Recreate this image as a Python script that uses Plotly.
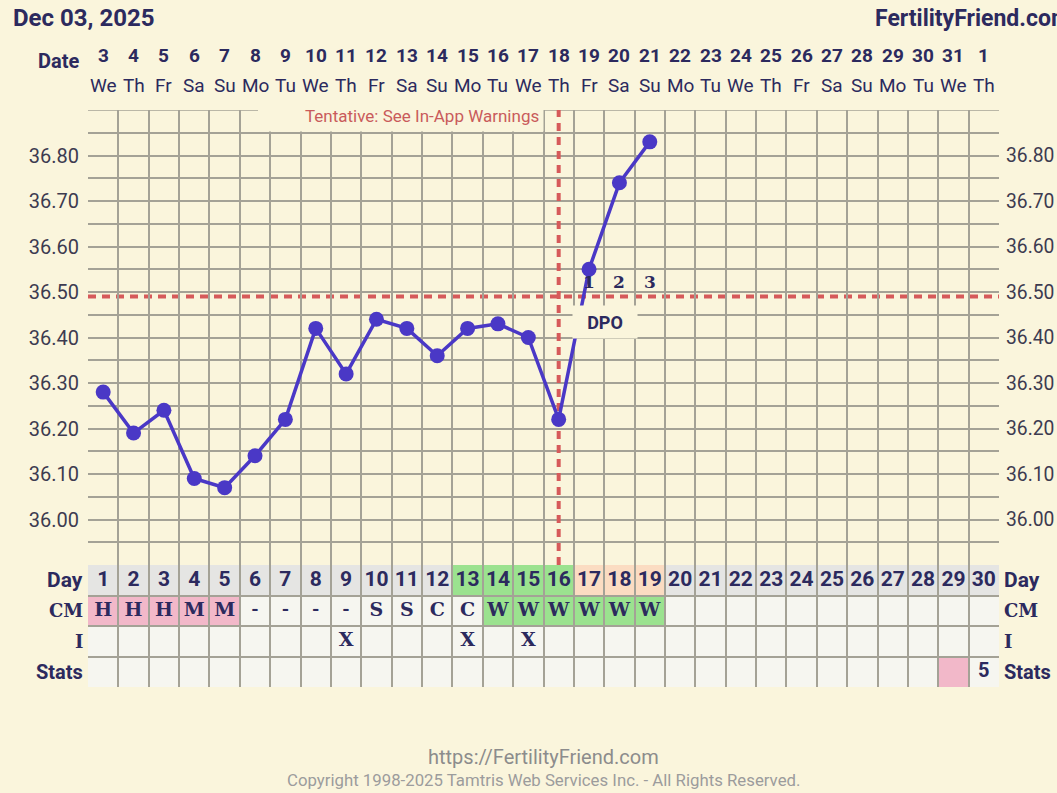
import plotly.graph_objects as go

# ---------------- data ----------------
chart_date = "Dec 03, 2025"
site_name = "FertilityFriend.com"
dates = ["3", "4", "5", "6", "7", "8", "9", "10", "11", "12", "13", "14", "15", "16", "17",
         "18", "19", "20", "21", "22", "23", "24", "25", "26", "27", "28", "29", "30", "31", "1"]
weekdays = ["We", "Th", "Fr", "Sa", "Su", "Mo", "Tu", "We", "Th", "Fr", "Sa", "Su", "Mo", "Tu", "We",
            "Th", "Fr", "Sa", "Su", "Mo", "Tu", "We", "Th", "Fr", "Sa", "Su", "Mo", "Tu", "We", "Th"]
cycle_days = list(range(1, 31))
temp_days = list(range(1, 20))
temps = [36.28, 36.19, 36.24, 36.09, 36.07, 36.14, 36.22, 36.42, 36.32, 36.44,
         36.42, 36.36, 36.42, 36.43, 36.40, 36.22, 36.55, 36.74, 36.83]
coverline = 36.49
ovulation_day = 16
dpo_days = [17, 18, 19]
dpo_labels = ["1", "2", "3"]
cm_values = ["H", "H", "H", "M", "M", "-", "-", "-", "-", "S", "S", "C", "C",
             "W", "W", "W", "W", "W", "W"]
intercourse_days = [9, 13, 15]
fertile_days = [13, 14, 15, 16]
post_ov_days = [17, 18, 19]
stats_marked_days = [29]
stats_days = [30]
stats_values = ["5"]
row_labels = ["Day", "CM", "I", "Stats"]
y_label_vals = [36.0, 36.1, 36.2, 36.3, 36.4, 36.5, 36.6, 36.7, 36.8]
y_label_text = ["36.00", "36.10", "36.20", "36.30", "36.40", "36.50", "36.60", "36.70", "36.80"]
y_grid_vals = [35.90, 35.95, 36.00, 36.05, 36.10, 36.15, 36.20, 36.25, 36.30, 36.35, 36.40,
               36.45, 36.50, 36.55, 36.60, 36.65, 36.70, 36.75, 36.80, 36.85, 36.90]
footer_url = "https://FertilityFriend.com"
footer_copy = "Copyright 1998-2025 Tamtris Web Services Inc. - All Rights Reserved."
tentative_note = "Tentative: See In-App Warnings"

# ---------------- style ----------------
BG = "#faf5dc"
GRID = "#a4a296"
NAVY = "#2c2a5e"
LINE = "#4a38c6"
RED = "#d65a5a"
TICK = "#3d3b50"
PINK = "#f2b8c9"
GREEN = "#9be28f"
PEACH = "#fbdcc2"
GREYCELL = "#e5e5e3"
LIGHT = "#f6f6f0"
SANS = "Roboto"
SERIF = "DejaVu Serif"

W, H = 1057, 793
L, R, T, B = 88, 58, 110, 106
PW, PH = W - L - R, H - T - B
split = 122 / PH


def px(x):
    return (x - L) / PW


def py(y):
    return (H - B - y) / PH


fig = go.Figure()

# temperature line
fig.add_trace(go.Scatter(
    x=temp_days, y=temps, mode="lines+markers", xaxis="x", yaxis="y",
    line=dict(color=LINE, width=3.5), marker=dict(color=LINE, size=15),
    hoverinfo="skip", showlegend=False))

# invisible trace on the right axis
fig.add_trace(go.Scatter(x=[1], y=[36.5], xaxis="x", yaxis="y3", mode="markers",
                         marker=dict(opacity=0), hoverinfo="skip", showlegend=False))

# ---------------- table ----------------
shapes = []


def cell(d, row, color):
    shapes.append(dict(type="rect", xref="x", yref="y2", x0=d - 0.5, x1=d + 0.5,
                       y0=row - 0.5, y1=row + 0.5, fillcolor=color, line=dict(width=0),
                       layer="below"))


for d in cycle_days:
    if d in fertile_days:
        c = GREEN
    elif d in post_ov_days:
        c = PEACH
    else:
        c = GREYCELL
    cell(d, 1, c)
    v = cm_values[d - 1] if d <= len(cm_values) else ""
    if v in ("H", "M"):
        c = PINK
    elif v == "W":
        c = GREEN
    else:
        c = LIGHT
    cell(d, 2, c)
    cell(d, 3, LIGHT)
    cell(d, 4, PINK if d in stats_marked_days else LIGHT)

fig.add_trace(go.Scatter(
    x=cycle_days, y=[1] * len(cycle_days), text=[str(d) for d in cycle_days],
    mode="text", xaxis="x", yaxis="y2",
    textfont=dict(family=SANS, size=21, color=NAVY, weight="bold"),
    hoverinfo="skip", showlegend=False))

serif_x = [i + 1 for i, v in enumerate(cm_values) if v != "-"]
serif_t = [v for v in cm_values if v != "-"]
dash_x = [i + 1 for i, v in enumerate(cm_values) if v == "-"]
fig.add_trace(go.Scatter(
    x=serif_x, y=[2] * len(serif_x), text=serif_t, mode="text", xaxis="x", yaxis="y2",
    textfont=dict(family=SERIF, size=19, color=NAVY, weight="bold"),
    hoverinfo="skip", showlegend=False))
fig.add_trace(go.Scatter(
    x=dash_x, y=[2] * len(dash_x), text=["-"] * len(dash_x), mode="text", xaxis="x", yaxis="y2",
    textfont=dict(family=SANS, size=19, color=NAVY, weight="bold"),
    hoverinfo="skip", showlegend=False))
fig.add_trace(go.Scatter(
    x=intercourse_days, y=[3] * len(intercourse_days), text=["X"] * len(intercourse_days),
    mode="text", xaxis="x", yaxis="y2",
    textfont=dict(family=SERIF, size=19, color=NAVY, weight="bold"),
    hoverinfo="skip", showlegend=False))
fig.add_trace(go.Scatter(
    x=stats_days, y=[4] * len(stats_days), text=stats_values, mode="text", xaxis="x", yaxis="y2",
    textfont=dict(family=SANS, size=20, color=NAVY, weight="bold"),
    hoverinfo="skip", showlegend=False))

# ---------------- reference lines ----------------
shapes.append(dict(type="line", xref="paper", yref="y", x0=0, x1=1, y0=36.9, y1=36.9,
                   line=dict(color=GRID, width=1.5), layer="between"))
shapes.append(dict(type="line", xref="paper", yref="y2", x0=0, x1=1, y0=4.5, y1=4.5,
                   line=dict(color=GRID, width=1.5), layer="between"))
shapes.append(dict(type="line", xref="x", yref="y", x0=ovulation_day, x1=ovulation_day,
                   y0=35.9, y1=36.9, line=dict(color=RED, width=4, dash="8px,6px"),
                   layer="between"))
shapes.append(dict(type="line", xref="paper", yref="y", x0=0, x1=1, y0=coverline, y1=coverline,
                   line=dict(color=RED, width=4, dash="8px,6px"), layer="between"))
# mask behind the tentative note
shapes.append(dict(type="rect", xref="paper", yref="paper", x0=px(258), x1=px(543.5),
                   y0=py(131.5), y1=py(98), fillcolor=BG, line=dict(width=0), layer="above"))

ann = []
ann.append(dict(text=tentative_note, xref="paper", yref="paper", x=px(541), y=py(116),
                xanchor="right", yanchor="middle", showarrow=False,
                font=dict(family=SANS, size=17, color="#c95b5b")))
ann.append(dict(text="<b>DPO</b>", xref="paper", yref="paper", x=px(605), y=py(322),
                xanchor="center", yanchor="middle", showarrow=False, bgcolor=BG,
                width=62, height=30, font=dict(family=SANS, size=18, color=NAVY)))
for d, t in zip(dpo_days, dpo_labels):
    ann.append(dict(text=t, xref="x", yref="y", x=d, y=coverline, yshift=15,
                    xanchor="center", yanchor="middle", showarrow=False,
                    font=dict(family=SERIF, size=17, color=NAVY, weight="bold")))

# header
ann.append(dict(text=chart_date, xref="paper", yref="paper", x=px(11), y=py(18),
                xanchor="left", yanchor="middle", showarrow=False,
                font=dict(family=SANS, size=24, color=NAVY, weight="bold")))
ann.append(dict(text=site_name, xref="paper", yref="paper", x=px(873), y=py(18),
                xanchor="left", yanchor="middle", showarrow=False,
                font=dict(family=SANS, size=23, color=NAVY, weight="bold")))
ann.append(dict(text="Date", xref="paper", yref="paper", x=px(81), y=py(61),
                xanchor="right", yanchor="middle", showarrow=False,
                font=dict(family=SANS, size=20, color=NAVY, weight="bold")))
for d, dt, wd in zip(cycle_days, dates, weekdays):
    ann.append(dict(text=dt, xref="x", yref="paper", x=d, y=py(56),
                    xanchor="center", yanchor="middle", showarrow=False,
                    font=dict(family=SANS, size=19, color=NAVY, weight="bold")))
    ann.append(dict(text=wd, xref="x", yref="paper", x=d, y=py(85.5),
                    xanchor="center", yanchor="middle", showarrow=False,
                    font=dict(family=SANS, size=19, color=NAVY)))

# row labels
row_fonts = [SANS, SERIF, SERIF, SANS]
row_sizes = [21, 18, 18, 20]
for i, (lab, fam, sz) in enumerate(zip(row_labels, row_fonts, row_sizes)):
    f = dict(family=fam, size=sz, color=NAVY, weight="bold")
    ann.append(dict(text=lab, xref="paper", yref="y2", x=px(85), y=i + 1,
                    xanchor="right", yanchor="middle", showarrow=False, font=f))
    ann.append(dict(text=lab, xref="paper", yref="y2", x=px(1002), y=i + 1,
                    xanchor="left", yanchor="middle", showarrow=False, font=f))

# footer
ann.append(dict(text=footer_url, xref="paper", yref="paper", x=px(543), y=py(757),
                xanchor="center", yanchor="middle", showarrow=False,
                font=dict(family=SANS, size=20, color="#8c8c8c")))
ann.append(dict(text=footer_copy, xref="paper", yref="paper", x=px(543), y=py(780),
                xanchor="center", yanchor="middle", showarrow=False,
                font=dict(family=SANS, size=16.8, color="#9c9c9c")))

axis_common = dict(showline=False, zeroline=False, ticks="", fixedrange=True, automargin=False)

fig.update_layout(
    width=W, height=H,
    margin=dict(l=L, r=R, t=T, b=B, pad=0, autoexpand=False),
    paper_bgcolor=BG, plot_bgcolor=BG,
    showlegend=False,
    xaxis=dict(range=[0.5, 30.5], tickvals=[i + 0.5 for i in range(0, 31)],
               showticklabels=False, showgrid=True, gridcolor=GRID, gridwidth=1.5,
               anchor="y2", domain=[0, 1], **axis_common),
    yaxis=dict(range=[35.9, 36.9], domain=[split, 1], anchor="x",
               tickvals=y_grid_vals,
               ticktext=[y_label_text[y_label_vals.index(round(v, 2))] if round(v, 2) in y_label_vals else ""
                         for v in y_grid_vals],
               showgrid=True, gridcolor=GRID, gridwidth=1.5, ticklabelstandoff=8,
               tickfont=dict(family=SANS, size=20, color=TICK), **axis_common),
    yaxis3=dict(range=[35.9, 36.9], overlaying="y", side="right", anchor="x",
                tickvals=y_label_vals, ticktext=y_label_text, showgrid=False, ticklabelstandoff=6,
                tickfont=dict(family=SANS, size=19.3, color=TICK), **axis_common),
    yaxis2=dict(range=[4.5, 0.5], domain=[0, split], anchor="x",
                tickvals=[0.5, 1.5, 2.5, 3.5, 4.5], showticklabels=False,
                showgrid=True, gridcolor=GRID, gridwidth=1.5, **axis_common),
    shapes=shapes,
    annotations=ann,
)

fig.write_html("out.html", config={"displayModeBar": False},
               post_script="document.body.style.margin='0';document.body.style.overflow='hidden';")
